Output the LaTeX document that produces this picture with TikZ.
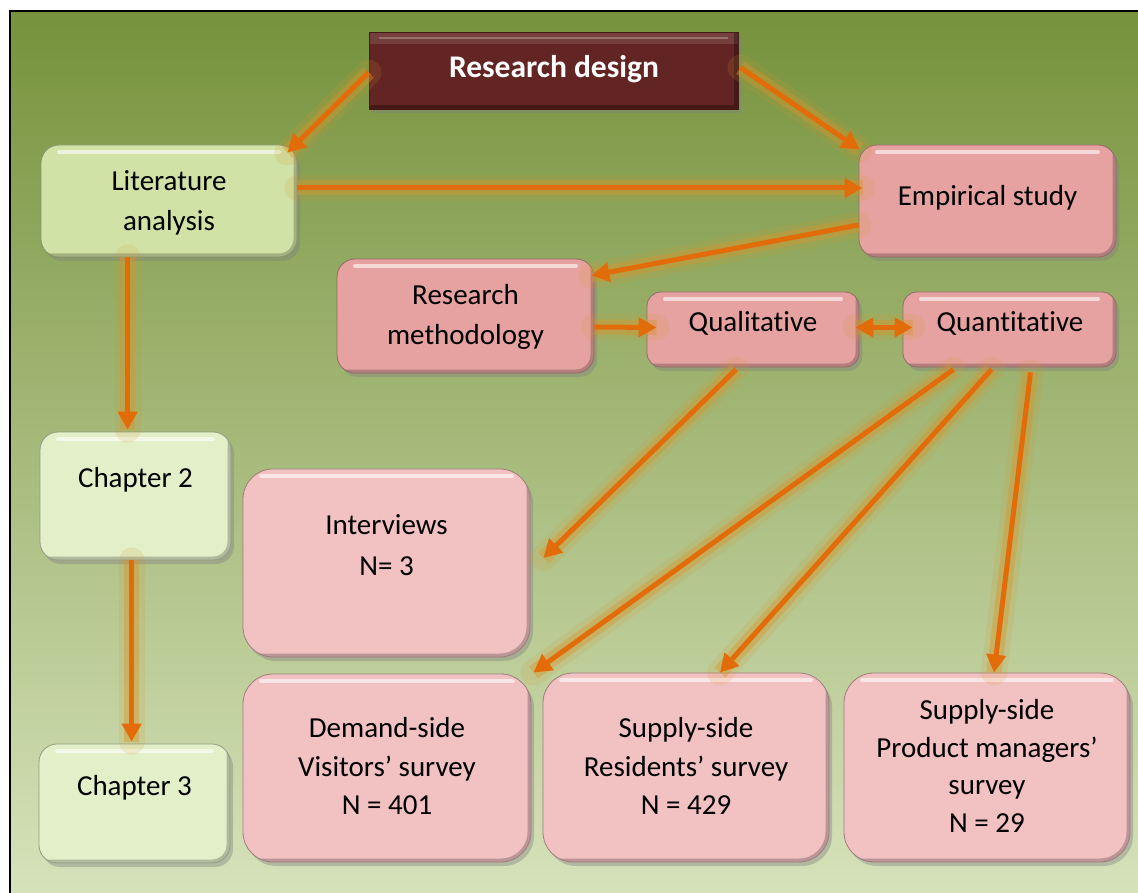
\documentclass[tikz,border=0pt]{standalone}
\usepackage{fontspec}
\setmainfont{Carlito}[Ligatures=NoCommon]
\usetikzlibrary{arrows.meta,shadows,calc}
\definecolor{bgtop}{HTML}{76923C}
\definecolor{bgbot}{HTML}{D8E4BD}
\definecolor{maroonc}{HTML}{632523}
\definecolor{pinkA}{HTML}{E6A2A1}
\definecolor{pinkB}{HTML}{F2C1C1}
\definecolor{greenA}{HTML}{D1E2A6}
\definecolor{greenB}{HTML}{E2EFC9}
\definecolor{arrowc}{HTML}{E36C0A}
\definecolor{glowc}{HTML}{D8952A}
\tikzset{
  box/.style={draw=#1!65!black, line width=0.8pt, fill=#1, rounded corners=18pt,
    inner sep=0pt,
    drop shadow={shadow xshift=3pt,shadow yshift=-4pt,opacity=0.4},
    path picture={
      \draw[white,opacity=0.6,line width=4pt,line cap=round]
        ($(path picture bounding box.north west)+(18pt,-7pt)$) --
        ($(path picture bounding box.north east)+(-18pt,-7pt)$);
      \draw[black,opacity=0.22,line width=7pt]
        (path picture bounding box.south west) -- (path picture bounding box.south east)
        -- (path picture bounding box.north east);
    }},
  rdbox/.style={draw=maroonc!70!black, line width=0.8pt, fill=maroonc, inner sep=0pt,
    drop shadow={shadow xshift=3pt,shadow yshift=-4pt,opacity=0.4},
    path picture={
      \fill[white,opacity=0.12]
        (path picture bounding box.north west) rectangle
        ($(path picture bounding box.north east)+(0pt,-12pt)$);
      \draw[white,opacity=0.25,line width=2pt]
        ($(path picture bounding box.north west)+(10pt,-6pt)$) --
        ($(path picture bounding box.north east)+(-10pt,-6pt)$);
      \draw[black,opacity=0.3,line width=8pt]
        (path picture bounding box.south west) -- (path picture bounding box.south east)
        -- (path picture bounding box.north east);
    }},
  txt/.style={align=center, inner sep=0pt, text height=19.5pt, text depth=6pt,
    font=\fontsize{29}{40.5}\selectfont},
  mtxt/.style={align=center, inner sep=0pt, font=\fontsize{29}{40.5}\selectfont},
  ltxt/.style={align=center, inner sep=0pt, font=\fontsize{29}{38.5}\selectfont},
  rdtxt/.style={align=center, inner sep=0pt, text height=20.8pt, text depth=6pt,
    font=\fontsize{31.5}{40}\selectfont\bfseries, text=white},
  arr/.style={draw=arrowc, line width=5pt, -{Triangle[length=18pt,width=19pt]},
    preaction={draw=glowc, line width=26pt, opacity=0.15, arrows=-, line cap=round},
    preaction={draw=glowc, line width=15pt, opacity=0.4, arrows=-, line cap=butt}},
  darr/.style={arr, {Triangle[length=18pt,width=19pt]}-{Triangle[length=18pt,width=19pt]}},
}
\begin{document}
\begin{tikzpicture}[x=1pt,y=-1pt]
\useasboundingbox (0,0) rectangle (1138,893);
\clip (0,0) rectangle (1138,893);
\fill[white] (0,0) rectangle (1138,893);
\shade[top color=bgtop, bottom color=bgbot] (10,11) rectangle (1160,910);
\draw[line width=1.3pt] (10,910) -- (10,11) -- (1160,11);

% boxes
\node[rdbox, minimum width=369pt, minimum height=77pt] (rd) at (553.5,70.5) {};
\node[box=greenA, minimum width=256pt, minimum height=112pt] (lit) at (169,201) {};
\node[box=pinkA, minimum width=257pt, minimum height=112pt] (emp) at (987.5,201) {};
\node[box=pinkA, minimum width=257pt, minimum height=114pt] (meth) at (465.5,316) {};
\node[box=pinkA, minimum width=212pt, minimum height=75pt, rounded corners=14pt] (qual) at (753,329.5) {};
\node[box=pinkA, minimum width=213pt, minimum height=75pt, rounded corners=14pt] (quant) at (1009.5,329.5) {};
\node[box=greenB, minimum width=191pt, minimum height=128pt] (ch2) at (135.5,496) {};
\node[box=greenB, minimum width=191pt, minimum height=119pt] (ch3) at (134.5,803.5) {};
\node[box=pinkB, minimum width=287pt, minimum height=188pt, rounded corners=30pt] (intv) at (386.5,563) {};
\node[box=pinkB, minimum width=288pt, minimum height=188pt, rounded corners=30pt] (dem) at (387,768) {};
\node[box=pinkB, minimum width=286pt, minimum height=189pt, rounded corners=30pt] (res) at (686,767.5) {};
\node[box=pinkB, minimum width=286pt, minimum height=189pt, rounded corners=30pt] (pm) at (987,767.5) {};

% texts
\node[rdtxt] (trd) at (554,70) {Research design};
\node[mtxt] (tlit) at (169,203) {Literature\\analysis};
\node[txt] (temp) at (987.5,199) {Empirical study};
\node[mtxt] (tmeth) at (465.5,317) {Research\\methodology};
\node[txt] (tqual) at (753,325) {Qualitative};
\node[txt] (tquant) at (1010,325) {Quantitative};
\node[txt] (tch2) at (135.5,481) {Chapter 2};
\node[txt] (tch3) at (134.5,789) {Chapter 3};
\node[mtxt] (tintv) at (386.5,545) {Interviews\\N= 3};
\node[ltxt] (tdem) at (387,766.5) {Demand-side\\Visitors’ survey\\N = 401};
\node[ltxt] (tres) at (686,766) {Supply-side\\Residents’ survey\\N = 429};
\node[ltxt, font=\fontsize{29}{37.5}\selectfont] (tpm) at (987,766) {Supply-side\\Product managers’\\survey\\N = 29};

% connectors
\draw[arr] ($(rd.west)+(0,2)$) -- ($(lit.north east)+(-10,8)$);
\draw[arr] ($(rd.east)+(2,-3)$) -- ($(emp.north west)+(1,5)$);
\draw[arr] ($(lit.east)+(0,-13)$) -- ($(emp.west)+(4,-13)$);
\draw[arr] ($(emp.west)+(0,24)$) -- ($(meth.north east)+(-3,17)$);
\draw[arr] ($(lit.south west)+(87,0)$) -- ($(ch2.north west)+(88,-2)$);
\draw[arr] ($(ch2.south west)+(92,0)$) -- ($(ch3.north west)+(93,-2)$);
\draw[arr] ($(meth.east)+(0,11)$) -- ($(qual.west)+(10,-2)$);
\draw[darr] ($(qual.east)+(-4,-2)$) -- ($(quant.west)+(10,-2)$);
\draw[arr] ($(qual.south)+(-17,2)$) -- ($(intv.east)+(13,-5)$);
\draw[arr] ($(quant.south)+(-56,2)$) -- ($(dem.north east)+(2,-1)$);
\draw[arr] ($(quant.south)+(-18,2)$) -- ($(res.north)+(34,0)$);
\draw[arr] ($(quant.south)+(21,5)$) -- ($(pm.north)+(7,0)$);
\end{tikzpicture}
\end{document}
